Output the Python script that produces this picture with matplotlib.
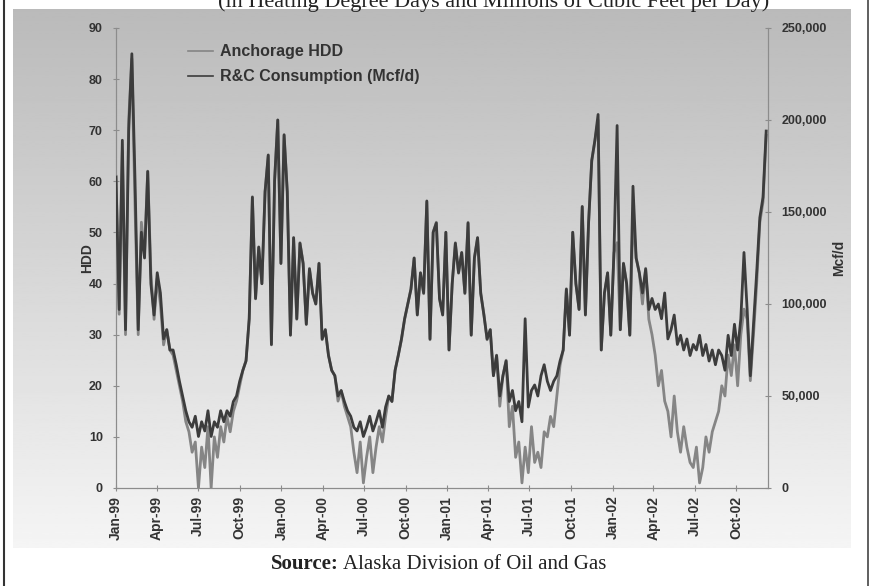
import matplotlib
matplotlib.use("Agg")
import matplotlib.pyplot as plt
import matplotlib.dates as mdates
import numpy as np
import pandas as pd

# weekly readings, Jan 1999 - early Dec 2002
dates = pd.date_range("1999-01-01", periods=206, freq="7D")

hdd = [
    61, 34, 66, 30, 72, 84, 55, 30, 52, 46,
    62, 42, 33, 41, 36, 28, 31, 27, 26, 23,
    20, 17, 13, 11, 7, 9, 0, 8, 4, 12,
    0, 10, 6, 12, 9, 14, 11, 15, 17, 20,
    23, 25, 33, 57, 37, 47, 40, 58, 65, 28,
    60, 72, 44, 69, 58, 30, 49, 33, 48, 44,
    32, 43, 38, 36, 44, 29, 31, 26, 23, 22,
    17, 19, 16, 14, 12, 7, 3, 9, 1, 6,
    10, 3, 8, 12, 9, 14, 18, 17, 23, 26,
    29, 33, 36, 39, 45, 34, 42, 38, 56, 29,
    50, 52, 37, 34, 50, 27, 40, 48, 42, 46,
    38, 52, 30, 45, 49, 38, 34, 29, 31, 22,
    26, 16, 22, 25, 12, 16, 6, 9, 1, 8,
    3, 12, 5, 7, 4, 11, 10, 14, 12, 18,
    24, 27, 39, 30, 50, 40, 35, 55, 34, 52,
    64, 68, 72, 27, 38, 42, 30, 46, 48, 31,
    44, 40, 30, 53, 45, 42, 36, 43, 33, 30,
    26, 20, 23, 17, 15, 10, 18, 11, 7, 12,
    8, 5, 4, 8, 1, 4, 10, 7, 11, 13,
    15, 20, 18, 26, 22, 28, 20, 30, 35, 33,
    21, 30, 40, 52, 56, 69,
]

# residential & commercial gas use, thousand Mcf/d
rc_kmcfd = [
    169, 97, 189, 86, 194, 236, 167, 86, 139, 125,
    172, 111, 94, 117, 106, 81, 86, 75, 75, 67,
    58, 50, 42, 36, 33, 39, 28, 36, 31, 42,
    28, 36, 33, 42, 36, 42, 39, 47, 50, 58,
    64, 69, 92, 158, 103, 131, 111, 161, 181, 78,
    167, 200, 122, 192, 161, 83, 136, 92, 133, 122,
    89, 119, 106, 100, 122, 81, 86, 72, 64, 61,
    50, 53, 47, 42, 39, 33, 31, 36, 28, 33,
    39, 31, 36, 42, 33, 44, 50, 47, 64, 72,
    81, 92, 100, 108, 125, 94, 117, 106, 156, 81,
    139, 144, 103, 94, 139, 75, 111, 133, 117, 128,
    106, 144, 83, 125, 136, 106, 94, 81, 86, 61,
    72, 50, 61, 69, 47, 53, 42, 47, 36, 92,
    44, 53, 56, 50, 61, 67, 58, 53, 58, 61,
    69, 75, 108, 83, 139, 111, 97, 153, 94, 144,
    178, 189, 203, 75, 106, 117, 83, 128, 197, 86,
    122, 111, 83, 164, 125, 117, 106, 119, 97, 103,
    97, 100, 92, 106, 81, 86, 94, 78, 83, 75,
    81, 72, 78, 75, 83, 72, 78, 69, 75, 67,
    75, 72, 64, 83, 72, 89, 75, 92, 128, 97,
    61, 89, 117, 147, 158, 194,
]
rc_mcfd = np.array(rc_kmcfd) * 1000

hdd_ticks = [0, 10, 20, 30, 40, 50, 60, 70, 80, 90]
mcf_ticks = [0, 50000, 100000, 150000, 200000, 250000]

W, H = 871, 586
fig = plt.figure(figsize=(W / 100, H / 100), dpi=100)
fig.patch.set_facecolor("white")

# shaded chart area behind the plot
bg = fig.add_axes([13 / W, 1 - 548 / H, (850 - 13) / W, (548 - 9) / H], zorder=0)
shade = np.linspace(0.73, 0.96, 256).reshape(-1, 1)
bg.imshow(shade, cmap="gray", vmin=0, vmax=1, aspect="auto")
bg.axis("off")

ax = fig.add_axes([116 / W, 1 - 488 / H, (768 - 116) / W, (488 - 28) / H], zorder=2)
ax.patch.set_alpha(0)
ax2 = ax.twinx()

lab_font = dict(family="Liberation Sans", weight="bold", size=9)
txt_col = "#333333"
axis_col = "#8c8c8c"

ax.plot(dates, hdd, color="#858585", lw=2.0, label="Anchorage HDD", zorder=2)
ax2.plot(dates, rc_mcfd, color="#3c3c3c", lw=2.0, label="R&C Consumption (Mcf/d)", zorder=3)

ax.set_ylim(0, 90)
ax2.set_ylim(0, 250000)
ax.set_xlim(dates[0], pd.Timestamp("2002-12-10"))
ax.set_yticks(hdd_ticks)
ax2.set_yticks(mcf_ticks)
ax2.set_yticklabels([f"{v:,}" for v in mcf_ticks])

months = pd.date_range("1999-01-01", "2002-10-01", freq="QS")
ax.set_xticks(months)
ax.xaxis.set_major_formatter(mdates.DateFormatter("%b-%y"))

for a in (ax, ax2):
    a.spines["top"].set_visible(False)
    for s in a.spines.values():
        s.set_color(axis_col)
        s.set_linewidth(0.8)
    a.tick_params(axis="both", direction="inout", length=5, width=0.8, color=axis_col,
                  labelcolor=txt_col)
    for t in a.get_yticklabels():
        t.set_fontproperties(lab_font)

ax.tick_params(axis="y", pad=7)
ax2.tick_params(axis="y", pad=7)
ax.tick_params(axis="x", pad=3)
for t in ax.get_xticklabels():
    t.set_fontproperties(lab_font)
    t.set_fontsize(10)
    t.set_rotation(90)

ax.set_ylabel("HDD", fontdict=dict(lab_font, size=10), color=txt_col)
ax2.set_ylabel("Mcf/d", fontdict=dict(lab_font, size=10), color=txt_col, rotation=90)
ax.yaxis.set_label_coords(-0.034, 0.5)
ax2.yaxis.set_label_coords(1.098, 0.5)

h1, l1 = ax.get_legend_handles_labels()
h2, l2 = ax2.get_legend_handles_labels()
leg = ax2.legend(h1 + h2, l1 + l2, loc="upper left", bbox_to_anchor=(0.088, 0.996),
                 frameon=False, handlelength=1.6, handletextpad=0.4, labelspacing=0.62,
                 prop=dict(family="Liberation Sans", weight="bold", size=11.5))
for t in leg.get_texts():
    t.set_color(txt_col)
for ln in leg.get_lines():
    ln.set_linewidth(1.2)

fig.text(494 / W, 1 - 7 / H, "(in Heating Degree Days and Millions of Cubic Feet per Day)",
         ha="center", va="baseline", family="Liberation Serif", size=16, color="#222222",
         zorder=5)
src = fig.text(271 / W, 1 - 569 / H, "Source:", ha="left", va="baseline",
               family="Liberation Serif", weight="bold", size=15, color="#222222")
fig.canvas.draw()
bb = src.get_window_extent()
fig.text((bb.x1 + 4) / W, 1 - 569 / H, "Alaska Division of Oil and Gas", ha="left",
         va="baseline", family="Liberation Serif", size=15, color="#222222")

# page edges
fig.add_artist(plt.Line2D([4 / W, 4 / W], [0, 1], color="#333333", lw=1.5))
fig.add_artist(plt.Line2D([868 / W, 868 / W], [0, 1], color="#444444", lw=1.2))

fig.savefig("out.png", dpi=100)
